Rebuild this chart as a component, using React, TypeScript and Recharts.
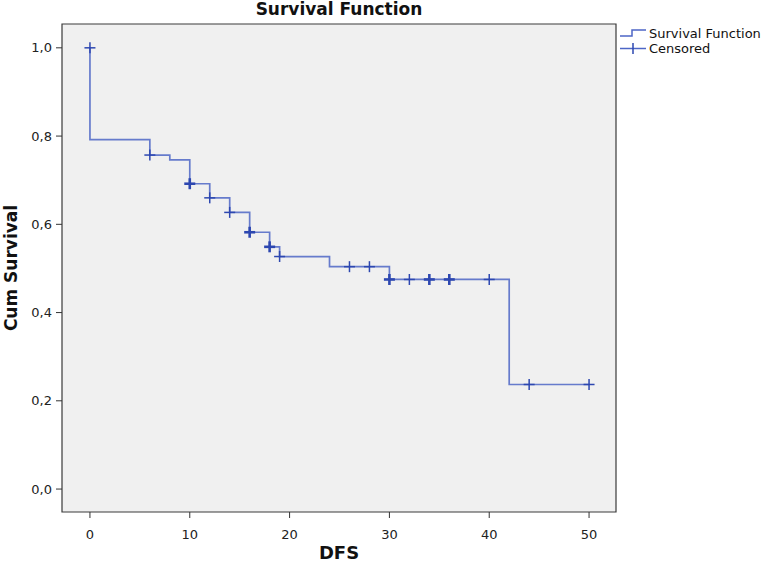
import React from "react";
import {
  ComposedChart,
  Line,
  Scatter,
  XAxis,
  YAxis,
  CartesianGrid,
  ReferenceArea,
  Label,
} from "recharts";

// Kaplan-Meier step points (time, cumulative survival)
const stepTimes = [0, 0, 6, 8, 10, 12, 14, 16, 18, 19, 24, 30, 42, 50];
const stepSurvival = [1.0, 0.792, 0.757, 0.746, 0.692, 0.66, 0.627, 0.582, 0.549, 0.527, 0.504, 0.475, 0.237, 0.237];

// Censored observations (time, survival, count of overlapping censors)
const censorTimes = [0, 6, 10, 12, 14, 16, 18, 19, 26, 28, 30, 32, 34, 36, 40, 44, 50];
const censorSurvival = [1.0, 0.757, 0.692, 0.66, 0.627, 0.582, 0.549, 0.527, 0.504, 0.504, 0.475, 0.475, 0.475, 0.475, 0.475, 0.237, 0.237];
const censorCounts = [1, 1, 2, 1, 1, 2, 2, 1, 1, 1, 2, 1, 2, 2, 1, 1, 1];

const xTicks = [0, 10, 20, 30, 40, 50];
const yTicks = [0, 0.2, 0.4, 0.6, 0.8, 1.0];

const X_MIN = -2.8;
const X_MAX = 52.7;
const Y_MIN = -0.052;
const Y_MAX = 1.054;

const steps = stepTimes.map((t, i) => ({ t, s: stepSurvival[i] }));
const censored = censorTimes.map((t, i) => ({ t, s: censorSurvival[i], n: censorCounts[i] }));

const FONT = "'DejaVu Sans', 'Liberation Sans', Arial, sans-serif";
const LINE_COLOR = "#4d66c6";
const CENSOR_COLOR = "#2d47b0";

const renderCross = (props: any) => {
  const { cx, cy, payload } = props;
  if (cx == null || cy == null) return <g />;
  const bold = payload && payload.n > 1;
  const w = bold ? 2.6 : 1.5;
  return (
    <g>
      <line x1={cx - 5.5} y1={cy} x2={cx + 5.5} y2={cy} stroke={CENSOR_COLOR} strokeWidth={w} />
      <line x1={cx} y1={cy - 5.5} x2={cx} y2={cy + 5.5} stroke={CENSOR_COLOR} strokeWidth={w} />
    </g>
  );
};

const yFmt = (v: number) => v.toFixed(1).replace(".", ",");

export default function App() {
  return (
    <div style={{ position: "absolute", left: 0, top: 0, width: 762, height: 565, background: "#fff", fontFamily: FONT }}>
      <div
        style={{
          position: "absolute",
          left: 62,
          width: 554,
          top: -1,
          textAlign: "center",
          fontWeight: "bold",
          fontSize: 17,
          color: "#111",
          lineHeight: "20px",
        }}
      >
        Survival Function
      </div>
      <ComposedChart width={762} height={565} margin={{ top: 24, right: 146, bottom: 0, left: 0 }}>
        <CartesianGrid horizontal={false} vertical={false} fill="#f0f0f0" fillOpacity={1} />
        <XAxis
          type="number"
          dataKey="t"
          domain={[X_MIN, X_MAX]}
          ticks={xTicks}
          allowDataOverflow
          height={53}
          axisLine={false}
          tickLine={{ stroke: "#333" }}
          tickSize={6}
          tickMargin={12}
          tick={{ fill: "#222", fontSize: 13, fontFamily: FONT }}
        >
          <Label
            value="DFS"
            position="insideBottom"
            offset={6}
            style={{ fontWeight: "bold", fontSize: 18, fill: "#111", fontFamily: FONT }}
          />
        </XAxis>
        <YAxis
          type="number"
          domain={[Y_MIN, Y_MAX]}
          ticks={yTicks}
          allowDataOverflow
          width={62}
          axisLine={false}
          tickLine={{ stroke: "#333" }}
          tickSize={6}
          tickMargin={4}
          tickFormatter={yFmt}
          tick={{ fill: "#222", fontSize: 13, fontFamily: FONT }}
        >
          <Label
            content={() => (
              <text
                x={11}
                y={268}
                transform="rotate(-90 11 268)"
                textAnchor="middle"
                dominantBaseline="central"
                style={{ fontWeight: "bold", fontSize: 17, fill: "#111", fontFamily: FONT }}
              >
                Cum Survival
              </text>
            )}
          />
        </YAxis>
        <ReferenceArea
          x1={X_MIN}
          x2={X_MAX}
          y1={Y_MIN}
          y2={Y_MAX}
          fill="none"
          stroke="#3a3a3a"
          strokeWidth={1.2}
          ifOverflow="visible"
        />
        <Line
          data={steps}
          dataKey="s"
          type="stepAfter"
          stroke={LINE_COLOR}
          strokeWidth={1.7}
          strokeOpacity={0.85}
          dot={false}
          activeDot={false}
          isAnimationActive={false}
        />
        <Scatter data={censored} dataKey="s" shape={renderCross} isAnimationActive={false} />
      </ComposedChart>
      <div style={{ position: "absolute", left: 618, top: 26, fontSize: 13, color: "#111", lineHeight: "15px" }}>
        <div style={{ display: "flex", alignItems: "center", height: 15 }}>
          <svg width={30} height={15} style={{ marginRight: 1 }}>
            <polyline points="2,10 14,10 14,4 28,4" fill="none" stroke={LINE_COLOR} strokeWidth={1.5} />
          </svg>
          <span>Survival Function</span>
        </div>
        <div style={{ display: "flex", alignItems: "center", height: 15 }}>
          <svg width={30} height={15} style={{ marginRight: 1 }}>
            <line x1={2} y1={7.5} x2={28} y2={7.5} stroke={LINE_COLOR} strokeWidth={1.5} />
            <line x1={15} y1={2} x2={15} y2={13} stroke={CENSOR_COLOR} strokeWidth={1.5} />
          </svg>
          <span>Censored</span>
        </div>
      </div>
    </div>
  );
}
